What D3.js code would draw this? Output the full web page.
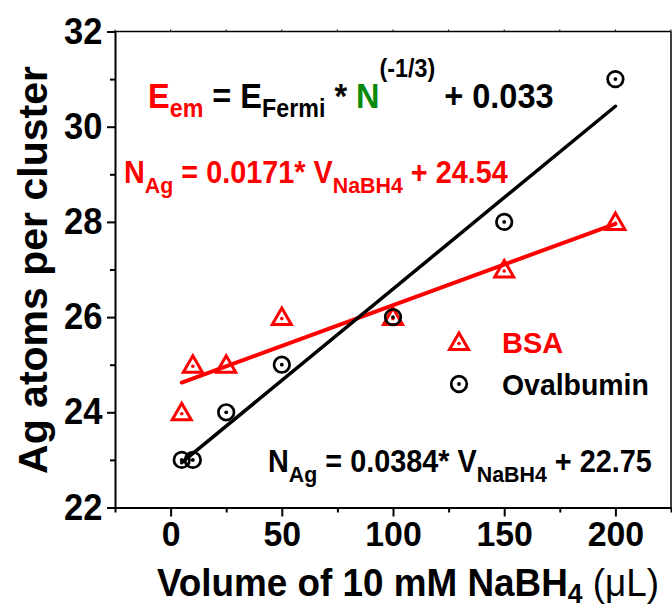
<!DOCTYPE html>
<html>
<head>
<meta charset="utf-8">
<script src="https://cdn.jsdelivr.net/npm/d3@7"></script>
<style>
  body { margin: 0; background: #fff; }
  text { font-family: "Liberation Sans", Arial, sans-serif; font-weight: bold; }
</style>
</head>
<body>
<div id="chart"></div>
<script>
// data
const volumes = [5, 10, 25, 50, 100, 150, 200];
const bsaAtoms = [24, 25, 25, 26, 26, 27, 28];
const ovalAtoms = [23, 23, 24, 25, 26, 28, 31];
const fitNames = ["BSA", "Ovalbumin"];
const fitSlopes = [0.0171, 0.0384];
const fitIntercepts = [24.54, 22.75];
const fitRange = [5, 200];
const xTicks = [0, 50, 100, 150, 200];
const xMinor = [-25, 25, 75, 125, 175, 225];
const yTicks = [22, 24, 26, 28, 30, 32];
const yMinor = [23, 25, 27, 29, 31];

const W = 672, H = 610;
const red = "#ff0000", green = "#0a8a0a";

const svg = d3.select("#chart")
    .append("svg")
    .attr("width", W)
    .attr("height", H);

const x = d3.scaleLinear().domain([-25, 225]).range([115, 671]);
const y = d3.scaleLinear().domain([22, 32]).range([507.5, 31.5]);

// squeeze a text horizontally around its x anchor (the original font is condensed)
function squeeze(sel, sx) {
    const x0 = +sel.attr("x");
    sel.attr("transform", `translate(${x0},0) scale(${sx},1) translate(${-x0},0)`);
}

// frame
svg.append("line").attr("x1", 115).attr("x2", 671).attr("y1", y(32)).attr("y2", y(32))
    .attr("stroke", "#000").attr("stroke-width", 1.5);
svg.append("line").attr("x1", 671).attr("x2", 671).attr("y1", y(32)).attr("y2", y(22))
    .attr("stroke", "#000").attr("stroke-width", 1.5);
svg.selectAll(".toptick")
    .data(d3.range(-25, 226, 25))
    .enter()
    .append("line")
    .attr("x1", d => x(d)).attr("x2", d => x(d))
    .attr("y1", y(32)).attr("y2", y(32) - 2)
    .attr("stroke", "#000").attr("stroke-width", 1);

// left axis
const yAxis = svg.append("g")
    .attr("transform", "translate(115,0)")
    .call(d3.axisLeft(y).tickValues(yTicks).tickSize(8).tickPadding(5).tickSizeOuter(0));
svg.append("g")
    .attr("transform", "translate(115,0)")
    .call(d3.axisLeft(y).tickValues(yMinor).tickSize(5).tickFormat("").tickSizeOuter(0))
    .select(".domain").remove();
yAxis.selectAll("text")
    .attr("font-size", 36)
    .attr("font-family", "Liberation Sans, Arial, sans-serif")
    .attr("font-weight", "bold")
    .attr("fill", "#000")
    .attr("transform", "scale(0.96,1)");

// bottom axis
const xAxis = svg.append("g")
    .attr("transform", `translate(0,${y(22)})`)
    .call(d3.axisBottom(x).tickValues(xTicks).tickSize(9).tickPadding(4).tickSizeOuter(0));
svg.append("g")
    .attr("transform", `translate(0,${y(22)})`)
    .call(d3.axisBottom(x).tickValues(xMinor).tickSize(5).tickFormat("").tickSizeOuter(0))
    .select(".domain").remove();
xAxis.selectAll("text")
    .attr("font-size", 36)
    .attr("font-family", "Liberation Sans, Arial, sans-serif")
    .attr("font-weight", "bold")
    .attr("fill", "#000")
    .attr("transform", "scale(0.94,1)");

svg.selectAll(".domain, .tick line").attr("stroke-width", 2).attr("stroke", "#000");

// fit lines
const fitColors = [red, "#000"];
const fitWidths = [4, 3.5];
[0, 1].forEach(i => {
    svg.append("line")
        .attr("x1", x(fitRange[0]))
        .attr("y1", y(fitIntercepts[i] + fitSlopes[i] * fitRange[0]))
        .attr("x2", x(fitRange[1]))
        .attr("y2", y(fitIntercepts[i] + fitSlopes[i] * fitRange[1]))
        .attr("stroke", fitColors[i])
        .attr("stroke-width", fitWidths[i])
        .attr("stroke-linecap", "round");
});

// markers
const triPath = "M0,-9 L9.5,7.5 L-9.5,7.5 Z";
function triangle(g, cx, cy) {
    g.append("path").attr("d", triPath)
        .attr("transform", `translate(${cx},${cy})`)
        .attr("fill", "none").attr("stroke", red).attr("stroke-width", 3)
        .attr("stroke-linejoin", "miter");
    g.append("circle").attr("cx", cx).attr("cy", cy + 1.5).attr("r", 1.8).attr("fill", red);
}
function dotCircle(g, cx, cy) {
    g.append("circle").attr("cx", cx).attr("cy", cy).attr("r", 7.8)
        .attr("fill", "none").attr("stroke", "#000").attr("stroke-width", 2.7);
    g.append("circle").attr("cx", cx).attr("cy", cy).attr("r", 1.9).attr("fill", "#000");
}

const marks = svg.append("g");
volumes.forEach((v, i) => triangle(marks, x(v), y(bsaAtoms[i])));
volumes.forEach((v, i) => dotCircle(marks, x(v), y(ovalAtoms[i])));

// legend
triangle(svg, 459, 342);
svg.append("text").attr("x", 502).attr("y", 353).attr("font-size", 29)
    .attr("fill", red).text(fitNames[0]);
dotCircle(svg, 459, 384);
svg.append("text").attr("x", 502).attr("y", 395).attr("font-size", 29)
    .attr("fill", "#000").text(fitNames[1])
    .call(squeeze, 0.98);

// equation helpers
function subText(sel, parts) {
    parts.forEach(p => {
        sel.append("tspan")
            .attr("fill", p.c || "#000")
            .attr("font-size", p.s || null)
            .attr("font-weight", p.w || null)
            .attr("dy", p.dy || 0)
            .text(p.t);
    });
}

// Eem equation
const eq1 = svg.append("text").attr("x", 148).attr("y", 108).attr("font-size", 35);
subText(eq1, [
    { t: "E", c: red },
    { t: "em", c: red, s: 25, dy: 9 },
    { t: " = E", dy: -9 },
    { t: "Fermi", s: 25, dy: 9 },
    { t: " * ", dy: -9 },
    { t: "N", c: green },
    { t: "(-1/3)", s: 25, dy: -31 },
    { t: " + 0.033", dy: 31 }
]);
squeeze(eq1, 0.93);

// fit equations
function fitEq(i, x0, y0, color) {
    const t = svg.append("text").attr("x", x0).attr("y", y0).attr("font-size", 31).attr("fill", color);
    subText(t, [
        { t: "N", c: color },
        { t: "Ag", c: color, s: 23, dy: 10 },
        { t: " = " + fitSlopes[i] + "* V", c: color, dy: -10 },
        { t: "NaBH4", c: color, s: 23, dy: 10 },
        { t: " + " + fitIntercepts[i], c: color, dy: -10 }
    ]);
    squeeze(t, 0.93);
}
fitEq(0, 124, 183, red);
fitEq(1, 268, 472, "#000");

// axis titles
const xt = svg.append("text").attr("x", 408).attr("y", 596)
    .attr("text-anchor", "middle").attr("font-size", 39);
subText(xt, [
    { t: "Volume of 10 mM NaBH" },
    { t: "4", s: 28, dy: 7 },
    { t: " (μL)", w: "normal", dy: -7 }
]);
squeeze(xt, 0.945);

svg.append("text")
    .attr("transform", "translate(47,270) rotate(-90)")
    .attr("text-anchor", "middle")
    .attr("font-size", 41)
    .text("Ag atoms per cluster");
</script>
</body>
</html>
